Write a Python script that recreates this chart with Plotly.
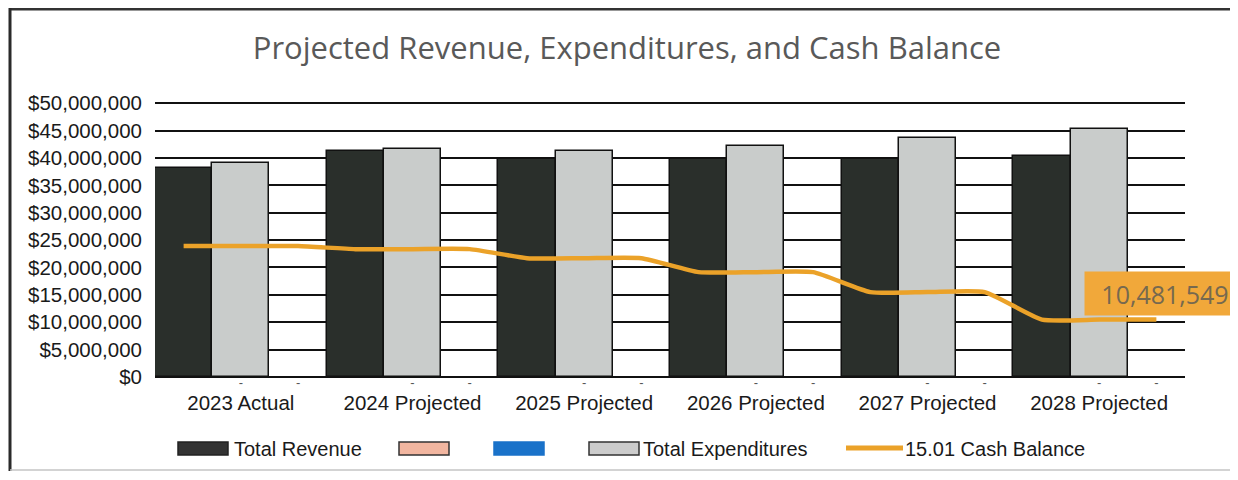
import plotly.graph_objects as go

# ---------------- data ----------------
categories = ["2023 Actual", "2024 Projected", "2025 Projected",
              "2026 Projected", "2027 Projected", "2028 Projected"]
total_revenue = [38.1e6, 41.2e6, 39.8e6, 39.8e6, 39.9e6, 40.4e6]
total_expenditures = [39.0e6, 41.7e6, 41.3e6, 42.2e6, 43.6e6, 45.3e6]
series_pink = [0, 0, 0, 0, 0, 0]
series_blue = [0, 0, 0, 0, 0, 0]
cash_balance = [23.9e6, 23.35e6, 21.7e6, 19.15e6, 15.5e6, 10481549]
y_tick_values = [0, 5e6, 10e6, 15e6, 20e6, 25e6, 30e6, 35e6, 40e6, 45e6, 50e6]
y_tick_labels = ["$0", "$5,000,000", "$10,000,000", "$15,000,000", "$20,000,000",
                 "$25,000,000", "$30,000,000", "$35,000,000", "$40,000,000",
                 "$45,000,000", "$50,000,000"]

# ---------------- layout geometry ----------------
OFF = 8  # page body margin
Y_TOP = 50.4e6
W, H = 1238 - OFF, 480 - OFF
L = 155 - OFF
R = W - (1185 - OFF)
T = 101 - OFF
B = H - (377 - OFF)
PW, PH = W - L - R, H - T - B
slot = 1 / 3
idx = list(range(len(categories)))


def px(x):
    return (x - OFF - L) / PW


def py(y):
    return (H - B - (y - OFF)) / PH


fig = go.Figure()

fig.add_trace(go.Bar(
    x=[i - slot for i in idx], y=total_revenue, width=slot, name="Total Revenue",
    marker=dict(color="#2a2f2b", line=dict(color="#111111", width=1.5)),
    showlegend=False))
fig.add_trace(go.Bar(
    x=[i for i in idx], y=total_expenditures, width=slot, name="Total Expenditures",
    marker=dict(color="#c9cccb", line=dict(color="#111111", width=1.5)),
    showlegend=False))

# zero-valued series shown only as "-" labels
fig.add_trace(go.Scatter(
    x=[i for i in idx], y=series_pink, mode="text", text=["-"] * len(idx),
    textposition="bottom center", textfont=dict(size=13, color="#555555"),
    cliponaxis=False, showlegend=False, hoverinfo="skip"))
fig.add_trace(go.Scatter(
    x=[i + slot for i in idx], y=series_blue, mode="text", text=["-"] * len(idx),
    textposition="bottom center", textfont=dict(size=13, color="#555555"),
    cliponaxis=False, showlegend=False, hoverinfo="skip"))

# cash balance line: one point per bar slot of each category
line_x, line_y = [], []
for i, v in zip(idx, cash_balance):
    for off in (-slot, 0, slot):
        line_x.append(i + off)
        line_y.append(v)
fig.add_trace(go.Scatter(
    x=line_x, y=line_y, mode="lines", name="15.01 Cash Balance",
    line=dict(color="#eba229", width=4.5, shape="spline", smoothing=0.5),
    showlegend=False))

# data label for the last cash balance value
fig.add_annotation(
    x=idx[-1] + slot, y=cash_balance[-1], xref="x", yref="y",
    text=f"{cash_balance[-1]:,.0f}", showarrow=False,
    xanchor="center", yanchor="middle", xshift=9, yshift=26,
    width=148, height=31, borderpad=6, bgcolor="#f1a83a",
    font=dict(family="Open Sans", size=25, color="#76694f"))

# ---------------- custom legend ----------------
leg_y0, leg_y1 = 442, 455
swatches = [
    (178, 228, "#333333", "#222222"),
    (399, 449, "#f2b6a0", "#333333"),
    (494, 544, "#1a72c9", "#1a72c9"),
    (589, 639, "#cccccc", "#333333"),
]
for x0, x1, fill, edge in swatches:
    fig.add_shape(type="rect", xref="paper", yref="paper",
                  x0=px(x0), x1=px(x1), y0=py(leg_y1), y1=py(leg_y0),
                  fillcolor=fill, line=dict(color=edge, width=1.5))
fig.add_shape(type="line", xref="paper", yref="paper",
              x0=px(846), x1=px(903), y0=py(448), y1=py(448),
              line=dict(color="#eba229", width=5))
for xl, name in [(232, "Total Revenue"), (641, "Total Expenditures"),
                 (903, "15.01 Cash Balance")]:
    fig.add_annotation(x=px(xl), y=py(449), xref="paper", yref="paper",
                       text=name, showarrow=False, xanchor="left", yanchor="middle",
                       font=dict(family="Liberation Sans, Arial", size=20, color="#1a1a1a"))

# outer frame (top and left dark, bottom faint)
fig.add_shape(type="line", xref="paper", yref="paper", layer="below",
              x0=px(9), x1=px(1238), y0=py(9.2), y1=py(9.2),
              line=dict(color="#333333", width=2.5))
fig.add_shape(type="line", xref="paper", yref="paper", layer="below",
              x0=px(10), x1=px(10), y0=py(8), y1=py(471),
              line=dict(color="#2a2a2a", width=3))
fig.add_shape(type="line", xref="paper", yref="paper", layer="below",
              x0=px(10), x1=px(1238), y0=py(470), y1=py(470),
              line=dict(color="#c4c4c4", width=1.5))

fig.update_layout(
    width=W, height=H,
    margin=dict(l=L, r=R, t=T, b=B, pad=0),
    paper_bgcolor="white", plot_bgcolor="white",
    barmode="overlay", bargap=0,
    title=dict(text="Projected Revenue, Expenditures, and Cash Balance",
               x=(627 - OFF) / W, xanchor="center", y=1 - (48 - OFF) / H, yanchor="middle",
               font=dict(family="Open Sans", size=31, color="#595959")),
    font=dict(family="Liberation Sans, Arial", color="#1a1a1a"),
    showlegend=False,
    xaxis=dict(range=[-0.5, len(categories) - 0.5], tickvals=idx, ticktext=categories,
               showgrid=False, zeroline=False, showline=False, ticks="",
               tickfont=dict(size=20.5, color="#1a1a1a"), ticklabelstandoff=11),
    yaxis=dict(range=[0, Y_TOP], tickvals=y_tick_values, ticktext=y_tick_labels,
               showgrid=True, gridcolor="#111111", gridwidth=2,
               zeroline=True, zerolinecolor="#111111", zerolinewidth=2,
               showline=False, ticks="",
               tickfont=dict(size=20.5, color="#1a1a1a"), ticklabelstandoff=12),
)

fig.write_html("out.html")
